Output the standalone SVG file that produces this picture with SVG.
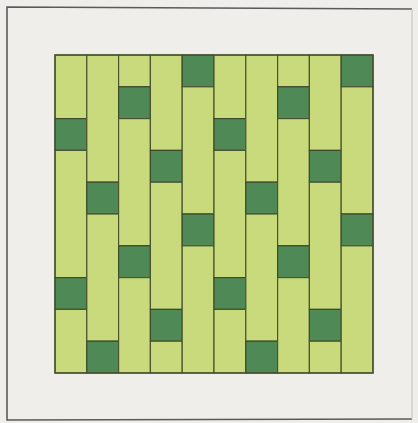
<svg xmlns="http://www.w3.org/2000/svg" width="418" height="423" viewBox="0 0 418 423">
<style>
.bg{fill:#efeeea}
.frame{fill:none;stroke:#5a5a5a;stroke-width:1.6}
.frameR{fill:none;stroke:#c8c8c4;stroke-width:1.2}
.lt{fill:#c8da7c;stroke:#4a5530;stroke-width:1.2}
.dk{fill:#4f8955;stroke:#3d4a2c;stroke-width:1.2}
.edge{fill:none;stroke:#48532e;stroke-width:1.4}
</style>
<rect class="bg" x="0" y="0" width="418" height="423"/>
<path class="frame" d="M412,9 L7,7 L7,420 L412,419"/>
<path class="frameR" d="M412,9 L412,419"/>
<g id="weave">
<g id="col0">
<rect class="lt" x="55" y="55" width="31.8" height="63.6"/>
<rect class="dk" x="55" y="118.6" width="31.8" height="31.8"/>
<rect class="lt" x="55" y="150.4" width="31.8" height="127.2"/>
<rect class="dk" x="55" y="277.6" width="31.8" height="31.8"/>
<rect class="lt" x="55" y="309.4" width="31.8" height="63.6"/>
</g>
<g id="col1">
<rect class="lt" x="86.8" y="55" width="31.8" height="127.2"/>
<rect class="dk" x="86.8" y="182.2" width="31.8" height="31.8"/>
<rect class="lt" x="86.8" y="214" width="31.8" height="127.2"/>
<rect class="dk" x="86.8" y="341.2" width="31.8" height="31.8"/>
</g>
<g id="col2">
<rect class="lt" x="118.6" y="55" width="31.8" height="31.8"/>
<rect class="dk" x="118.6" y="86.8" width="31.8" height="31.8"/>
<rect class="lt" x="118.6" y="118.6" width="31.8" height="127.2"/>
<rect class="dk" x="118.6" y="245.8" width="31.8" height="31.8"/>
<rect class="lt" x="118.6" y="277.6" width="31.8" height="95.4"/>
</g>
<g id="col3">
<rect class="lt" x="150.4" y="55" width="31.8" height="95.4"/>
<rect class="dk" x="150.4" y="150.4" width="31.8" height="31.8"/>
<rect class="lt" x="150.4" y="182.2" width="31.8" height="127.2"/>
<rect class="dk" x="150.4" y="309.4" width="31.8" height="31.8"/>
<rect class="lt" x="150.4" y="341.2" width="31.8" height="31.8"/>
</g>
<g id="col4">
<rect class="dk" x="182.2" y="55" width="31.8" height="31.8"/>
<rect class="lt" x="182.2" y="86.8" width="31.8" height="127.2"/>
<rect class="dk" x="182.2" y="214" width="31.8" height="31.8"/>
<rect class="lt" x="182.2" y="245.8" width="31.8" height="127.2"/>
</g>
<g id="col5">
<rect class="lt" x="214" y="55" width="31.8" height="63.6"/>
<rect class="dk" x="214" y="118.6" width="31.8" height="31.8"/>
<rect class="lt" x="214" y="150.4" width="31.8" height="127.2"/>
<rect class="dk" x="214" y="277.6" width="31.8" height="31.8"/>
<rect class="lt" x="214" y="309.4" width="31.8" height="63.6"/>
</g>
<g id="col6">
<rect class="lt" x="245.8" y="55" width="31.8" height="127.2"/>
<rect class="dk" x="245.8" y="182.2" width="31.8" height="31.8"/>
<rect class="lt" x="245.8" y="214" width="31.8" height="127.2"/>
<rect class="dk" x="245.8" y="341.2" width="31.8" height="31.8"/>
</g>
<g id="col7">
<rect class="lt" x="277.6" y="55" width="31.8" height="31.8"/>
<rect class="dk" x="277.6" y="86.8" width="31.8" height="31.8"/>
<rect class="lt" x="277.6" y="118.6" width="31.8" height="127.2"/>
<rect class="dk" x="277.6" y="245.8" width="31.8" height="31.8"/>
<rect class="lt" x="277.6" y="277.6" width="31.8" height="95.4"/>
</g>
<g id="col8">
<rect class="lt" x="309.4" y="55" width="31.8" height="95.4"/>
<rect class="dk" x="309.4" y="150.4" width="31.8" height="31.8"/>
<rect class="lt" x="309.4" y="182.2" width="31.8" height="127.2"/>
<rect class="dk" x="309.4" y="309.4" width="31.8" height="31.8"/>
<rect class="lt" x="309.4" y="341.2" width="31.8" height="31.8"/>
</g>
<g id="col9">
<rect class="dk" x="341.2" y="55" width="31.8" height="31.8"/>
<rect class="lt" x="341.2" y="86.8" width="31.8" height="127.2"/>
<rect class="dk" x="341.2" y="214" width="31.8" height="31.8"/>
<rect class="lt" x="341.2" y="245.8" width="31.8" height="127.2"/>
</g>
<rect class="edge" x="55" y="55" width="318" height="318"/>
</g>
</svg>
